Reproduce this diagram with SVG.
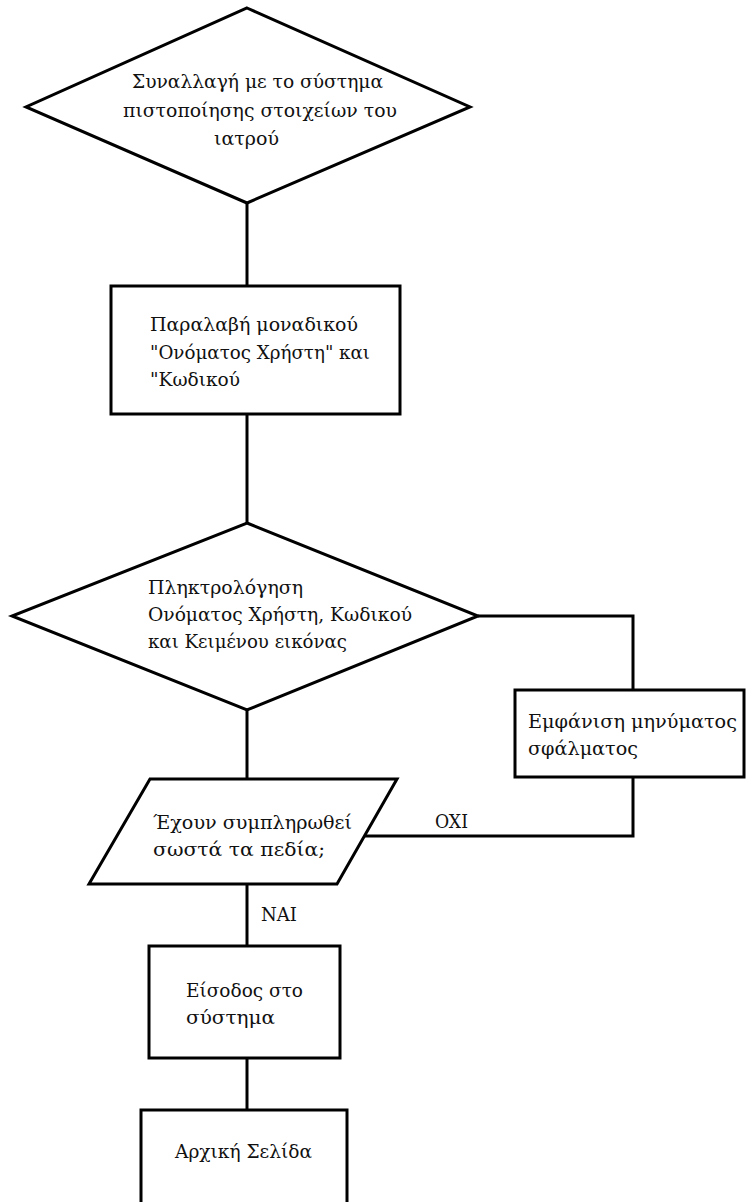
<svg xmlns="http://www.w3.org/2000/svg" width="746" height="1202" viewBox="0 0 746 1202">
<style>
.s{fill:#fff;stroke:#000;stroke-width:3;stroke-linejoin:miter}
.c{fill:none;stroke:#000;stroke-width:3}
text{font-family:"DejaVu Serif","Liberation Serif",serif;font-size:19px;fill:#111}
</style>
<rect width="746" height="1202" fill="#fff"/>
<g id="connectors">
<path class="c" d="M247 203V286"/>
<path class="c" d="M247 414V523"/>
<path class="c" d="M478 616H633V690"/>
<path class="c" d="M633 777V836H364"/>
<path class="c" d="M247 710V779"/>
<path class="c" d="M247 884V946"/>
<path class="c" d="M247 1058V1110"/>
<text x="435" y="828" textLength="33" lengthAdjust="spacingAndGlyphs">OXI</text>
<text x="261" y="921" textLength="36" lengthAdjust="spacingAndGlyphs">NAI</text>
</g>
<g id="n1">
<polygon class="s" points="247,8 470,107 247,203 26,107"/>
<text x="132" y="88" textLength="251" lengthAdjust="spacingAndGlyphs">Συναλλαγή με το σύστημα</text>
<text x="123" y="117" textLength="274" lengthAdjust="spacingAndGlyphs">πιστοποίησης στοιχείων του</text>
<text x="214" y="145" textLength="65" lengthAdjust="spacingAndGlyphs">ιατρού</text>
</g>
<g id="n2">
<rect class="s" x="111" y="286" width="289" height="128"/>
<text x="150" y="331" textLength="208" lengthAdjust="spacingAndGlyphs">Παραλαβή μοναδικού</text>
<text x="150" y="359" textLength="220" lengthAdjust="spacingAndGlyphs">"Ονόματος Χρήστη" και</text>
<text x="150" y="386" textLength="90" lengthAdjust="spacingAndGlyphs">"Κωδικού</text>
</g>
<g id="n3">
<polygon class="s" points="247,523 478,616 247,710 12,616"/>
<text x="148" y="594" textLength="155" lengthAdjust="spacingAndGlyphs">Πληκτρολόγηση</text>
<text x="148" y="621" textLength="264" lengthAdjust="spacingAndGlyphs">Ονόματος Χρήστη, Κωδικού</text>
<text x="148" y="648" textLength="199" lengthAdjust="spacingAndGlyphs">και Κειμένου εικόνας</text>
</g>
<g id="n4">
<rect class="s" x="515" y="690" width="229" height="87"/>
<text x="528" y="728" textLength="209" lengthAdjust="spacingAndGlyphs">Εμφάνιση μηνύματος</text>
<text x="528" y="755" textLength="110" lengthAdjust="spacingAndGlyphs">σφάλματος</text>
</g>
<g id="n5">
<polygon class="s" points="150,779 397,779 337,884 89,884"/>
<text x="153" y="829" textLength="199" lengthAdjust="spacingAndGlyphs">Έχουν συμπληρωθεί</text>
<text x="153" y="856" textLength="172" lengthAdjust="spacingAndGlyphs">σωστά τα πεδία;</text>
</g>
<g id="n6">
<rect class="s" x="149" y="946" width="191" height="112"/>
<text x="186" y="997" textLength="117" lengthAdjust="spacingAndGlyphs">Είσοδος στο</text>
<text x="186" y="1024" textLength="89" lengthAdjust="spacingAndGlyphs">σύστημα</text>
</g>
<g id="n7">
<rect class="s" x="141" y="1110" width="206" height="100"/>
<text x="175" y="1158" textLength="137" lengthAdjust="spacingAndGlyphs">Αρχική Σελίδα</text>
</g>
</svg>
